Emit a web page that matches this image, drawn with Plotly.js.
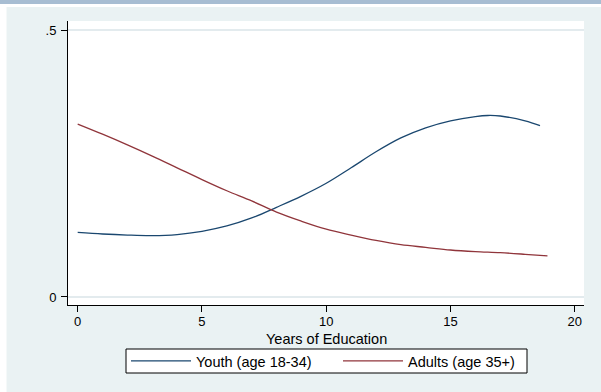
<!DOCTYPE html>
<html>
<head>
<meta charset="utf-8">
<script src="https://cdn.plot.ly/plotly-3.0.1.min.js"></script>
<style>
  html, body { margin: 0; padding: 0; background: #ffffff; }
  #chart { width: 601px; height: 392px; }
</style>
</head>
<body>
<div id="chart"></div>
<script>
// Share of each age group by years of education (smoothed)
const youthYears = [0, 1, 2, 3, 4, 5, 6, 7, 8, 9, 10, 11, 12, 13, 14, 15, 16, 16.5, 17, 18, 18.6];
const youthShare = [0.121, 0.118, 0.116, 0.115, 0.117, 0.123, 0.133, 0.148, 0.168, 0.189, 0.213, 0.242, 0.272, 0.298, 0.317, 0.330, 0.338, 0.340, 0.339, 0.330, 0.321];

const adultYears = [0, 1, 2, 3, 4, 5, 6, 7, 8, 9, 10, 11, 12, 13, 14, 15, 16, 17, 18, 18.9];
const adultShare = [0.324, 0.305, 0.285, 0.264, 0.242, 0.220, 0.199, 0.180, 0.159, 0.142, 0.127, 0.116, 0.106, 0.098, 0.093, 0.088, 0.085, 0.083, 0.080, 0.077];

const seriesNames = ['Youth (age 18-34)', 'Adults (age 35+)'];
const xTitle = 'Years of Education';
const xTickVals = [0, 5, 10, 15, 20];
const yTickVals = [0, 0.5];
const yTickText = ['0', '.5'];

const navy = '#1a476f';
const maroon = '#90353b';
const regionColor = '#eaf2f3';
const font = 'Liberation Sans, Arial, sans-serif';

const traces = [
  {
    x: youthYears, y: youthShare, name: seriesNames[0],
    type: 'scatter', mode: 'lines',
    line: { color: navy, width: 1.3, shape: 'spline', smoothing: 1 }
  },
  {
    x: adultYears, y: adultShare, name: seriesNames[1],
    type: 'scatter', mode: 'lines',
    line: { color: maroon, width: 1.3, shape: 'spline', smoothing: 1 }
  }
];

// plot area spans x 68..584, y 21..305 on the 601x392 page
const L = 68, R = 584, T = 21, B = 305;
const px = X => (X - L) / (R - L);
const py = Y => (B - Y) / (B - T);

const layout = {
  width: 601, height: 392,
  margin: { l: L, r: 601 - R, t: T, b: 392 - B, autoexpand: false },
  paper_bgcolor: regionColor,
  plot_bgcolor: '#ffffff',
  font: { family: font, size: 13, color: '#000000' },
  showlegend: true,
  legend: {
    orientation: 'h',
    x: px(126), xanchor: 'left',
    y: py(345), yanchor: 'top',
    bgcolor: 'rgba(0,0,0,0)', borderwidth: 0,
    font: { family: font, size: 14.5, color: '#000000' },
    itemwidth: 60,
    entrywidth: 137,
    traceorder: 'normal'
  },
  xaxis: {
    range: [-0.39, 20.37],
    tickvals: xTickVals,
    ticks: 'outside', ticklen: 6, tickwidth: 1, tickcolor: '#000000',
    showline: true, linecolor: '#000000', linewidth: 1,
    showgrid: false, zeroline: false,
    tickfont: { size: 13 },
    ticklabelstandoff: -2
  },
  yaxis: {
    range: [-0.015, 0.517],
    tickvals: yTickVals, ticktext: yTickText,
    ticks: 'outside', ticklen: 6, tickwidth: 1, tickcolor: '#000000',
    showline: true, linecolor: '#000000', linewidth: 1,
    showgrid: true, gridcolor: '#e3ebee', gridwidth: 1.2,
    zeroline: false,
    tickfont: { size: 13 },
    ticklabelstandoff: 2
  },
  annotations: [
    { text: xTitle, xref: 'paper', yref: 'paper',
      x: px(326), xanchor: 'center', y: py(338.5), yanchor: 'middle',
      showarrow: false, font: { family: font, size: 14.5, color: '#000000' } }
  ],
  shapes: [
    // white margin strips and the top banner of the page
    { type: 'rect', xref: 'paper', yref: 'paper', layer: 'below',
      x0: px(0), x1: px(6.5), y0: py(392), y1: py(0),
      fillcolor: '#ffffff', line: { width: 0 } },
    { type: 'rect', xref: 'paper', yref: 'paper', layer: 'below',
      x0: px(0), x1: px(601), y0: py(7), y1: py(0),
      fillcolor: '#ffffff', line: { width: 0 } },
    { type: 'rect', xref: 'paper', yref: 'paper', layer: 'below',
      x0: px(0), x1: px(601), y0: py(4), y1: py(0),
      fillcolor: '#a7bdd2', line: { width: 0 } },
    // legend frame
    { type: 'rect', xref: 'paper', yref: 'paper', layer: 'below',
      x0: px(126), x1: px(527), y0: py(373), y1: py(349),
      fillcolor: '#ffffff', line: { color: '#000000', width: 1 } }
  ]
};

Plotly.newPlot('chart', traces, layout, { displayModeBar: false, staticPlot: true });
</script>
</body>
</html>
